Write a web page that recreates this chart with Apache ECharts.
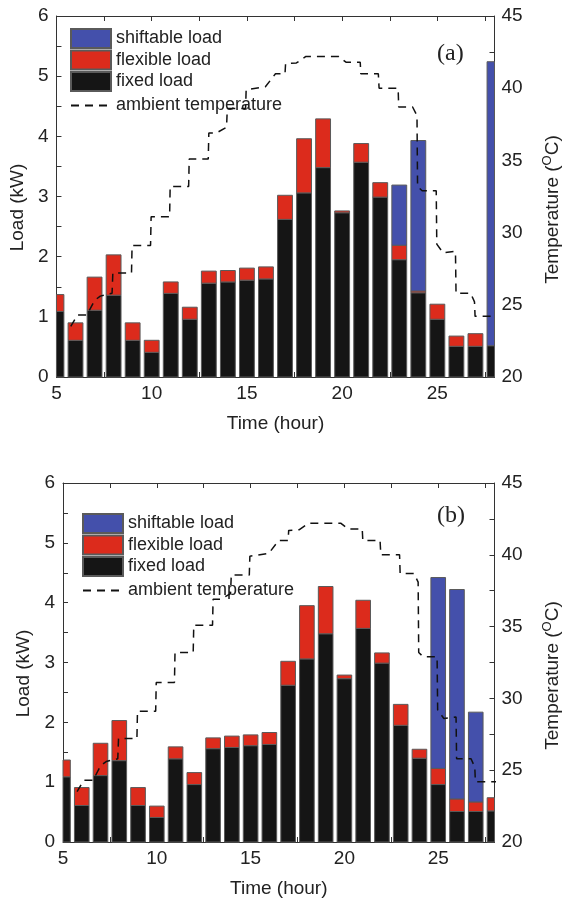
<!DOCTYPE html>
<html>
<head>
<meta charset="utf-8">
<script src="https://cdn.jsdelivr.net/npm/echarts@6/dist/echarts.min.js"></script>
<style>
    html, body {
        margin: 0;
        padding: 0;
        background: #fff;
    }

    #chart {
        width: 570px;
        height: 902px;
    }
</style>
</head>
<body>
<div id="chart"></div>
<script>
    // hours 5..28
    var hours = [5, 6, 7, 8, 9, 10, 11, 12, 13, 14, 15, 16, 17, 18, 19, 20, 21, 22, 23, 24, 25, 26, 27, 28];

    // fixed load is the same in both cases (kW)
    var fixedLoad = [1.09, 0.61, 1.11, 1.36, 0.61, 0.41, 1.39, 0.96, 1.56, 1.58, 1.61, 1.63,
        2.62, 3.06, 3.48, 2.73, 3.57, 2.99, 1.95, 1.40, 0.96, 0.51, 0.51, 0.52];

    // (a)
    var flexibleA = [0.28, 0.29, 0.55, 0.67, 0.29, 0.20, 0.19, 0.20, 0.20, 0.19, 0.20, 0.20,
        0.40, 0.90, 0.81, 0.03, 0.31, 0.24, 0.24, 0.03, 0.25, 0.17, 0.21, 0];
    var shiftableA = [0, 0, 0, 0, 0, 0, 0, 0, 0, 0, 0, 0,
        0, 0, 0, 0, 0, 0, 1.00, 2.50, 0, 0, 0, 4.72];

    // (b)
    var flexibleB = [0.28, 0.30, 0.54, 0.67, 0.30, 0.19, 0.20, 0.20, 0.18, 0.19, 0.18, 0.20,
        0.40, 0.89, 0.79, 0.06, 0.47, 0.17, 0.35, 0.15, 0.27, 0.21, 0.16, 0.22];
    var shiftableB = [0, 0, 0, 0, 0, 0, 0, 0, 0, 0, 0, 0,
        0, 0, 0, 0, 0, 0, 0, 0, 3.19, 3.50, 1.50, 0];

    // ambient temperature (hour, degC)
    var tempHour = [5.75, 6.1, 6.6, 7.0, 7.3, 7.92, 7.96, 8.94, 8.97, 9.94, 9.97, 10.94, 10.97,
        11.94, 11.97, 12.97, 13.0, 13.4, 13.93, 13.97, 14.93, 14.96, 15.97, 16.5, 17.0, 17.03,
        17.6, 18.1, 19.8, 20.2, 20.95, 20.98, 21.9, 21.94, 22.94, 22.97, 23.7, 23.93, 23.96,
        24.2, 24.94, 24.97, 25.3, 25.95, 25.98, 26.75, 26.95, 26.98, 28.3];
    var tempValue = [23.5, 24.3, 24.3, 25.3, 25.6, 25.8, 27.2, 27.2, 29.1, 29.1, 31.1, 31.1, 33.2,
        33.2, 35.1, 35.1, 36.9, 36.9, 37.3, 38.6, 38.6, 39.9, 40.1, 41.0, 41.0, 41.7,
        41.75, 42.2, 42.2, 41.8, 41.8, 41.0, 41.0, 40.0, 40.0, 38.7, 38.7, 38.1, 33.2,
        32.9, 32.9, 29.2, 28.6, 28.7, 25.8, 25.8, 25.2, 24.2, 24.2];

    var xTicks = [5, 10, 15, 20, 25];
    var loadTicks = [0, 1, 2, 3, 4, 5, 6];
    var tempTicks = [20, 25, 30, 35, 40, 45];

    var FONT = "'Liberation Sans', Arial, sans-serif";
    var AXIS_COLOR = '#333';
    var BAR_HOURS = 0.78; // bar width in hours

    var onlyTicks = function(list) {
        return function(v) {
            return list.indexOf(Math.round(v * 100) / 100) >= 0 ? String(v) : '';
        };
    };

    // stacked segments [hour, bottom, top]
    var segments = function(bottoms, parts) {
        var out = [];
        for (var i = 0; i < hours.length; i++) {
            var base = 0;
            for (var k = 0; k < bottoms.length; k++) base += bottoms[k][i];
            if (parts[i] > 0) out.push([hours[i], base, base + parts[i]]);
        }
        return out;
    };

    var renderBar = function(params, api) {
        var lo = api.coord([api.value(0), api.value(1)]);
        var hi = api.coord([api.value(0), api.value(2)]);
        var w = api.size([BAR_HOURS, 0])[0];
        var rect = echarts.graphic.clipRectByRect({
            x: lo[0] - w / 2,
            y: hi[1],
            width: w,
            height: lo[1] - hi[1]
        }, {
            x: params.coordSys.x,
            y: params.coordSys.y,
            width: params.coordSys.width,
            height: params.coordSys.height
        });
        return rect && {
            type: 'rect',
            shape: rect,
            style: api.style()
        };
    };

    var lineAxis = {
        axisLine: { show: true, lineStyle: { color: AXIS_COLOR, width: 1 } },
        axisTick: { show: true, inside: true, length: 5, lineStyle: { color: AXIS_COLOR } },
        splitLine: { show: false }
    };

    var makeAxes = function(g, xAxes, yAxes) {
        xAxes.push(Object.assign({
            type: 'value', gridIndex: g, position: 'bottom',
            min: 5, max: 28, interval: 2.5,
            axisLabel: { fontSize: 19, color: '#222', fontFamily: FONT, margin: 7, formatter: onlyTicks(xTicks) },
            name: 'Time (hour)', nameLocation: 'middle', nameGap: 37,
            nameTextStyle: { fontSize: 19, color: '#222', fontFamily: FONT }
        }, lineAxis));
        xAxes.push(Object.assign({
            type: 'value', gridIndex: g, position: 'top',
            min: 5, max: 28, interval: 2.5,
            axisLabel: { show: false }
        }, lineAxis));
        yAxes.push(Object.assign({
            type: 'value', gridIndex: g, position: 'left',
            min: 0, max: 6, interval: 0.5,
            axisLabel: { fontSize: 19, color: '#222', fontFamily: FONT, margin: 8, formatter: onlyTicks(loadTicks) },
            name: 'Load (kW)', nameLocation: 'middle', nameGap: 28,
            nameTextStyle: { fontSize: 19, color: '#222', fontFamily: FONT, padding: [0, 22, 0, 0] }
        }, lineAxis));
        yAxes.push(Object.assign({
            type: 'value', gridIndex: g, position: 'right',
            min: 20, max: 45, interval: 2.5,
            axisLabel: { fontSize: 19, color: '#222', fontFamily: FONT, margin: 7, formatter: onlyTicks(tempTicks) },
            name: 'Temperature ({sup|O}C)', nameLocation: 'middle', nameGap: 46,
            nameTextStyle: {
                fontSize: 19, color: '#222', fontFamily: FONT, padding: [0, 26, 0, 0],
                rich: { sup: { fontSize: 13, color: '#222', fontFamily: FONT, verticalAlign: 'top', lineHeight: 24 } }
            }
        }, lineAxis));
    };

    var barSeries = function(g, name, color, data) {
        return {
            name: name, type: 'custom',
            xAxisIndex: g * 2, yAxisIndex: g * 2,
            renderItem: renderBar,
            encode: { x: 0, y: [1, 2] },
            itemStyle: { color: color, borderColor: '#5a5a5a', borderWidth: 1 },
            data: data
        };
    };

    var makeSeries = function(g, flex, shift) {
        return [
            barSeries(g, 'fixed load', '#151515', segments([], fixedLoad)),
            barSeries(g, 'flexible load', '#dc2b1c', segments([fixedLoad], flex)),
            barSeries(g, 'shiftable load', '#4450ab', segments([fixedLoad, flex], shift)),
            {
                name: 'ambient temperature', type: 'line',
                xAxisIndex: g * 2, yAxisIndex: g * 2 + 1,
                symbol: 'none', z: 5,
                itemStyle: { color: '#111' },
                lineStyle: { color: '#111', width: 1.5, type: [8, 6] },
                data: tempHour.map(function(h, i) { return [h, tempValue[i]]; })
            }
        ];
    };

    var makeLegends = function(left, top) {
        var text = { fontSize: 18, lineHeight: 19, color: '#222', fontFamily: FONT };
        return [{
            orient: 'vertical', left: left, top: top, padding: 0,
            itemWidth: 40, itemHeight: 19, itemGap: 0.5, icon: 'rect',
            selectedMode: false, textStyle: text,
            data: ['shiftable load', 'flexible load', 'fixed load']
        }, {
            orient: 'vertical', left: left, top: top + 68, padding: 0,
            itemWidth: 40, itemHeight: 19,
            selectedMode: false, textStyle: text,
            itemStyle: { color: 'transparent', borderWidth: 0, opacity: 0 },
            data: ['ambient temperature']
        }];
    };

    var xAxes = [], yAxes = [];
    makeAxes(0, xAxes, yAxes);
    makeAxes(1, xAxes, yAxes);

    var myChart = echarts.init(document.getElementById('chart'));
    var option = {
        animation: false,
        backgroundColor: '#fff',
        title: [{
            text: '(a)', left: 437, top: 42, padding: 0,
            textStyle: { fontFamily: "'Liberation Serif', 'Times New Roman', serif", fontSize: 24, fontWeight: 'normal', color: '#222' }
        }, {
            text: '(b)', left: 437, top: 504, padding: 0,
            textStyle: { fontFamily: "'Liberation Serif', 'Times New Roman', serif", fontSize: 24, fontWeight: 'normal', color: '#222' }
        }],
        legend: makeLegends(70, 28).concat(makeLegends(82, 513)),
        grid: [
            { left: 55, top: 16, width: 443, height: 361 },
            { left: 63, top: 483, width: 440, height: 359 }
        ],
        xAxis: xAxes,
        yAxis: yAxes,
        series: makeSeries(0, flexibleA, shiftableA).concat(makeSeries(1, flexibleB, shiftableB))
    };
    myChart.setOption(option);
</script>
</body>
</html>
